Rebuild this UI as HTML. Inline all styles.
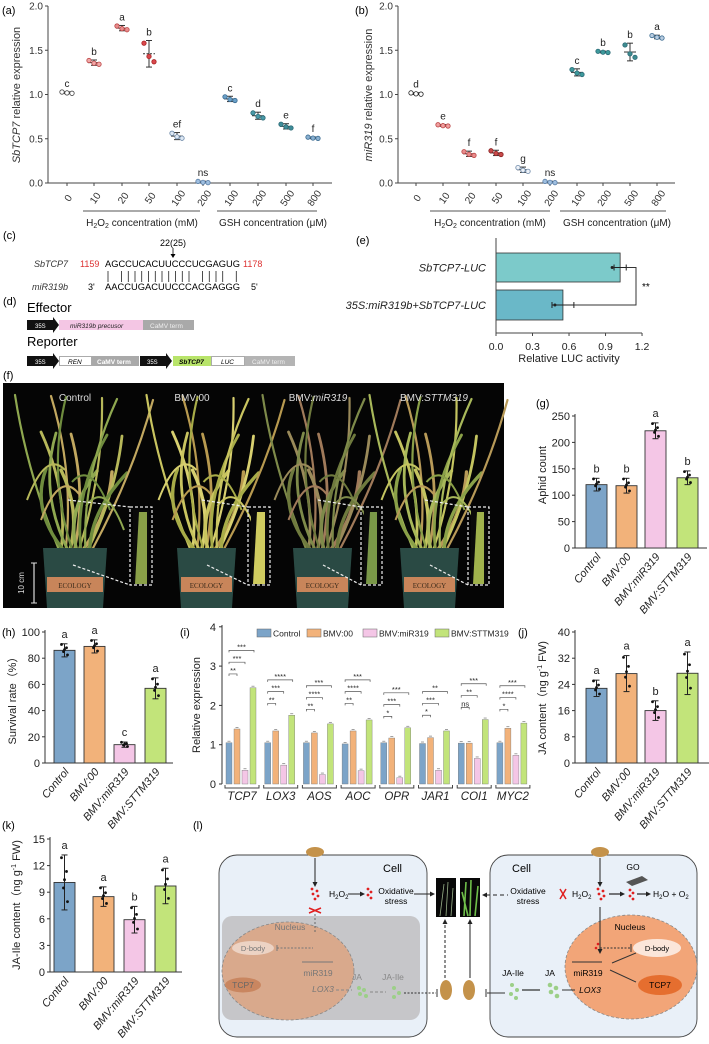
<!DOCTYPE html>
<html><head><meta charset="utf-8">
<style>
html,body{margin:0;padding:0;background:#fff;}
svg{display:block;font-family:"Liberation Sans",sans-serif;}
</style></head>
<body>
<svg id="fig" xmlns="http://www.w3.org/2000/svg" width="709" height="1044" viewBox="0 0 709 1044">
<rect x="0" y="0" width="709" height="1044" fill="#fff"/>
<g font-size="9">
  <text x="3" y="239" font-size="11">(c)</text>
  <text x="173" y="246" text-anchor="middle">22(25)</text>
  <line x1="173" y1="248" x2="173" y2="256" stroke="#000" stroke-width="0.8"/>
  <path d="M170.5 254 L173 258 L175.5 254Z" fill="#000"/>
  <text x="68" y="267" text-anchor="end" font-style="italic" fill="#333">SbTCP7</text>
  <text x="80" y="267" fill="#d33">1159</text>
  <text x="105" y="267" textLength="135" lengthAdjust="spacingAndGlyphs">AGCCUCACUUCCCUCGAGUG</text>
  <text x="243" y="267" fill="#d33">1178</text>
  <text x="68" y="290" text-anchor="end" font-style="italic" fill="#333">miR319b</text>
  <text x="88" y="290">3'</text>
  <text x="105" y="290" textLength="135" lengthAdjust="spacingAndGlyphs">AACCUGACUUCCCACGAGGG</text>
  <text x="251" y="290">5'</text>
  <g id="pairs" stroke="#000" stroke-width="0.7"></g>
</g>
<g>
  <text x="3" y="305" font-size="11">(d)</text>
  <text x="27" y="312" font-size="13">Effector</text>
  <path d="M27 320 H53 V317 L59 325 L53 333 V330 H27Z" fill="#111"/>
  <text x="35" y="328" font-size="6" fill="#fff">35S</text>
  <rect x="59" y="320" width="84" height="10" fill="#f4c6e4"/>
  <text x="70" y="328" font-size="6.5" font-style="italic" fill="#222">miR319b precusor</text>
  <rect x="143" y="320" width="51" height="10" fill="#a9a9a9"/>
  <text x="150" y="328" font-size="6.5" fill="#eee">CaMV term</text>
  <text x="27" y="346" font-size="13">Reporter</text>
  <path d="M27 356 H53 V353 L59 361 L53 369 V366 H27Z" fill="#111"/>
  <text x="35" y="364" font-size="6" fill="#fff">35S</text>
  <rect x="59.5" y="356.5" width="32" height="9" fill="#fff" stroke="#888" stroke-width="0.7"/>
  <text x="68" y="364" font-size="6.5" font-style="italic">REN</text>
  <rect x="92" y="356" width="47" height="10" fill="#a9a9a9"/>
  <text x="97" y="364" font-size="6.5" fill="#fff" font-weight="bold">CaMV term</text>
  <path d="M140 356 H166 V353 L172 361 L166 369 V366 H140Z" fill="#111"/>
  <text x="147" y="364" font-size="6" fill="#fff">35S</text>
  <rect x="173" y="356" width="38" height="10" fill="#b8e46a"/>
  <text x="179" y="364" font-size="6.5" font-style="italic" font-weight="bold">SbTCP7</text>
  <rect x="211.5" y="356.5" width="33" height="9" fill="#fff" stroke="#888" stroke-width="0.7"/>
  <text x="221" y="364" font-size="6.5" font-style="italic">LUC</text>
  <rect x="245" y="356" width="50" height="10" fill="#b4b4b4"/>
  <text x="252" y="364" font-size="6.5" fill="#eee">CaMV term</text>
</g>
<g>
  <text x="3" y="379" font-size="11">(f)</text>
  <rect x="3" y="383" width="501" height="225" fill="#050505"/>
  <g id="plants"></g>
  <text x="75" y="401" fill="#ddd" font-size="10" text-anchor="middle">Control</text>
  <text x="192" y="401" fill="#ddd" font-size="10" text-anchor="middle">BMV:00</text>
  <text x="318" y="401" fill="#ddd" font-size="10" text-anchor="middle">BMV:<tspan font-style="italic">miR319</tspan></text>
  <text x="434" y="401" fill="#ddd" font-size="10" text-anchor="middle">BMV:<tspan font-style="italic">STTM319</tspan></text>
  <line x1="34" y1="563" x2="34" y2="603" stroke="#ddd" stroke-width="1.2"/>
  <line x1="31" y1="563" x2="37" y2="563" stroke="#ddd"/><line x1="31" y1="603" x2="37" y2="603" stroke="#ddd"/>
  <text x="24" y="583" fill="#ddd" font-size="8" text-anchor="middle" transform="rotate(-90 24 583)">10 cm</text>
</g>
<g font-size="8.5">
  <text x="193" y="829" font-size="11">(l)</text>
  <rect x="219" y="855" width="208" height="182" rx="18" fill="#e9f0f8" stroke="#444" stroke-width="0.9"/>
  <rect x="222" y="916" width="198" height="104" rx="10" fill="#c6c6c9"/>
  <ellipse cx="288" cy="971" rx="66" ry="49" fill="#d9a98c" stroke="#888" stroke-dasharray="3 2" stroke-width="0.8"/>
  <text x="402" y="872" font-size="11" text-anchor="end">Cell</text>
  <ellipse cx="315" cy="852" rx="9" ry="5" fill="#c4924a"/>
  <line x1="315" y1="858" x2="315" y2="884" stroke="#222"/><path d="M312.5 882 L315 887 L317.5 882Z" fill="#222"/>
  <g fill="#e02020"><circle cx="312" cy="889" r="1.4"/><circle cx="317" cy="891" r="1.4"/><circle cx="313" cy="894" r="1.4"/><circle cx="318" cy="896" r="1.4"/><circle cx="315" cy="899" r="1.4"/></g>
  <text x="329" y="897">H<tspan font-size="6" dy="2">2</tspan><tspan dy="-2">O</tspan><tspan font-size="6" dy="2">2</tspan></text>
  <line x1="348" y1="894" x2="362" y2="894" stroke="#222"/><path d="M360 891.5 L365 894 L360 896.5Z" fill="#222"/>
  <g fill="#e02020"><circle cx="368" cy="889" r="1.4"/><circle cx="371" cy="892" r="1.4"/><circle cx="368" cy="895" r="1.4"/><circle cx="371" cy="898" r="1.4"/></g>
  <text x="396" y="894" text-anchor="middle">Oxidative</text><text x="396" y="904" text-anchor="middle">stress</text>
  <line x1="414" y1="894" x2="432" y2="894" stroke="#222"/><path d="M430 891.5 L435 894 L430 896.5Z" fill="#222"/>
  <path d="M309 908 L321 913 M309 913 L321 908" stroke="#e02020" stroke-width="1.5"/>
  <line x1="315" y1="914" x2="315" y2="934" stroke="#666" stroke-dasharray="2 2"/>
  <text x="290" y="930" text-anchor="middle" fill="#777">Nucleus</text>
  <ellipse cx="253" cy="948" rx="21" ry="7" fill="#ecd3c4"/><text x="253" y="951" text-anchor="middle" fill="#777" font-size="7.5">D-body</text>
  <line x1="277" y1="948" x2="313" y2="948" stroke="#777" stroke-dasharray="2 1.5"/><line x1="277" y1="945" x2="277" y2="951" stroke="#777"/>
  <line x1="302" y1="962" x2="333" y2="962" stroke="#777"/>
  <text x="318" y="976" text-anchor="middle" fill="#777">miR319</text>
  <ellipse cx="243" cy="985" rx="18" ry="7.5" fill="#c98660"/><text x="243" y="988" text-anchor="middle" fill="#666">TCP7</text>
  <text x="323" y="992" text-anchor="middle" font-style="italic" fill="#777">LOX3</text>
  <text x="357" y="980" text-anchor="middle" fill="#888">JA</text>
  <text x="393" y="980" text-anchor="middle" fill="#888">JA-Ile</text>
  <g fill="#9ccf88"><circle cx="359" cy="988" r="2"/><circle cx="364" cy="990" r="2"/><circle cx="360" cy="994" r="2"/><circle cx="366" cy="996" r="2"/><circle cx="394" cy="988" r="2"/><circle cx="399" cy="993" r="2"/><circle cx="394" cy="997" r="2"/></g>
  <line x1="336" y1="990" x2="352" y2="990" stroke="#888" stroke-dasharray="3 2"/>
  <line x1="370" y1="992" x2="386" y2="992" stroke="#888" stroke-dasharray="3 2"/>
  <line x1="404" y1="993" x2="436" y2="993" stroke="#333" stroke-dasharray="2 1.5"/><line x1="437" y1="989" x2="437" y2="997" stroke="#333"/>
  <rect x="436" y="878" width="20" height="39" fill="#080808"/>
  <path d="M440 916 L444 884 M446 916 L448 882 M451 916 L453 888" stroke="#9ab28a" stroke-width="0.8"/>
  <rect x="460" y="878" width="20" height="39" fill="#080808"/>
  <path d="M464 916 L466 882 M470 916 L471 880 M475 916 L478 886 M468 916 L462 892" stroke="#6fbf4a" stroke-width="1.6"/>
  <line x1="445" y1="978" x2="445" y2="922" stroke="#222" stroke-dasharray="3 2"/><path d="M442.5 924 L445 919 L447.5 924Z" fill="#222"/>
  <line x1="470" y1="978" x2="470" y2="922" stroke="#222"/><path d="M467.5 924 L470 919 L472.5 924Z" fill="#222"/>
  <ellipse cx="446" cy="990" rx="6" ry="10" fill="#c4924a"/>
  <ellipse cx="469" cy="990" rx="6" ry="10" fill="#c4924a"/>
  <rect x="490" y="855" width="207" height="182" rx="18" fill="#e9f0f8" stroke="#444" stroke-width="0.9"/>
  <text x="512" y="872" font-size="11">Cell</text>
  <ellipse cx="631" cy="967" rx="66" ry="52" fill="#f2a578" stroke="#888" stroke-dasharray="3 2" stroke-width="0.8"/>
  <ellipse cx="600" cy="852" rx="9" ry="5" fill="#c4924a"/>
  <line x1="600" y1="858" x2="600" y2="884" stroke="#222"/><path d="M597.5 882 L600 887 L602.5 882Z" fill="#222"/>
  <g fill="#e02020"><circle cx="598" cy="889" r="1.4"/><circle cx="603" cy="891" r="1.4"/><circle cx="599" cy="894" r="1.4"/><circle cx="604" cy="896" r="1.4"/><circle cx="601" cy="899" r="1.4"/></g>
  <text x="572" y="897">H<tspan font-size="6" dy="2">2</tspan><tspan dy="-2">O</tspan><tspan font-size="6" dy="2">2</tspan></text>
  <path d="M560 889 L566 899 M566 889 L560 899" stroke="#e02020" stroke-width="1.5"/>
  <text x="528" y="894" text-anchor="middle">Oxidative</text><text x="528" y="904" text-anchor="middle">stress</text>
  <line x1="486" y1="895" x2="508" y2="895" stroke="#222" stroke-dasharray="4 3"/><path d="M487 892.5 L482 895 L487 897.5Z" fill="#222"/>
  <line x1="609" y1="894" x2="622" y2="894" stroke="#222" stroke-width="1.2"/><path d="M620 891.5 L625 894 L620 896.5Z" fill="#222"/>
  <g fill="#e02020"><circle cx="630" cy="890" r="1.4"/><circle cx="633" cy="893" r="1.4"/><circle cx="630" cy="896" r="1.4"/><circle cx="633" cy="899" r="1.4"/></g>
  <line x1="637" y1="894" x2="648" y2="894" stroke="#222" stroke-width="1.2"/><path d="M646 891.5 L651 894 L646 896.5Z" fill="#222"/>
  <text x="653" y="897">H<tspan font-size="6" dy="2">2</tspan><tspan dy="-2">O + O</tspan><tspan font-size="6" dy="2">2</tspan></text>
  <text x="633" y="870" text-anchor="middle">GO</text>
  <path d="M626 882 L642 876 L648 880 L632 886Z" fill="#555"/>
  <line x1="600" y1="907" x2="600" y2="951" stroke="#222"/><path d="M597.5 949 L600 954 L602.5 949Z" fill="#222"/>
  <text x="630" y="930" text-anchor="middle">Nucleus</text>
  <circle cx="598" cy="944" r="1.3" fill="#e02020"/><circle cx="596" cy="948" r="1.3" fill="#e02020"/>
  <line x1="600" y1="948" x2="630" y2="948" stroke="#333" stroke-dasharray="2 1.5"/><line x1="631" y1="944" x2="631" y2="952" stroke="#333"/>
  <ellipse cx="657" cy="948" rx="24" ry="9" fill="#fbe6da"/><text x="657" y="951" text-anchor="middle" font-size="7.5">D-body</text>
  <line x1="572" y1="962" x2="602" y2="962" stroke="#333"/>
  <text x="588" y="976" text-anchor="middle">miR319</text>
  <line x1="636" y1="953" x2="612" y2="963" stroke="#333"/>
  <line x1="610" y1="970" x2="636" y2="982" stroke="#333"/>
  <ellipse cx="660" cy="985" rx="22" ry="10" fill="#e56e2f"/><text x="660" y="988" text-anchor="middle">TCP7</text>
  <text x="590" y="993" text-anchor="middle" font-style="italic">LOX3</text>
  <text x="550" y="976" text-anchor="middle">JA</text>
  <text x="513" y="976" text-anchor="middle">JA-Ile</text>
  <g fill="#9ccf88"><circle cx="550" cy="985" r="2.3"/><circle cx="556" cy="988" r="2.3"/><circle cx="551" cy="992" r="2.3"/><circle cx="557" cy="996" r="2.3"/><circle cx="512" cy="985" r="2"/><circle cx="517" cy="990" r="2"/><circle cx="511" cy="994" r="2"/><circle cx="516" cy="998" r="2"/></g>
  <line x1="522" y1="990" x2="540" y2="990" stroke="#333" stroke-width="1.3"/>
  <line x1="562" y1="990" x2="575" y2="990" stroke="#333"/>
  <line x1="487" y1="993" x2="505" y2="993" stroke="#333"/><line x1="486" y1="989" x2="486" y2="997" stroke="#333"/>
</g>
<g id="charts"></g>
</svg>
<script>
const concLabels = ["0","10","20","50","100","200","100","200","500","800"];
const tcp7Expr = [1.02,1.36,1.75,1.46,0.53,0.01,0.95,0.76,0.64,0.51];
const tcp7Err = [0.01,0.03,0.03,0.15,0.04,0.01,0.03,0.04,0.03,0.01];
const tcp7Letters = ["c","b","a","b","ef","ns","c","d","e","f"];
const mir319Expr = [1.01,0.65,0.33,0.34,0.15,0.01,1.25,1.48,1.48,1.65];
const mir319Err = [0.01,0.01,0.03,0.03,0.03,0.01,0.04,0.01,0.10,0.02];
const mir319Letters = ["d","e","f","f","g","ns","c","b","b","a"];
const lucLabels = ["SbTCP7-LUC","35S:miR319b+SbTCP7-LUC"];
const lucValues = [1.02,0.55];
const lucErr = [0.05,0.09];
const groups = ["Control","BMV:00","BMV:miR319","BMV:STTM319"];
const aphidCount = [120,118,222,133];
const aphidErr = [12,14,15,13];
const aphidLetters = ["b","b","a","b"];
const survival = [86,89,14,57];
const survivalErr = [5,5,2,8];
const survivalLetters = ["a","a","c","a"];
const jaContent = [22.8,27.3,16,27.4];
const jaErr = [2.5,5.5,3,6.5];
const jaLetters = ["a","a","b","a"];
const jaIle = [10.1,8.5,5.9,9.7];
const jaIleErr = [3.1,1.1,1.5,2.0];
const jaIleLetters = ["a","a","b","a"];
const genes = ["TCP7","LOX3","AOS","AOC","OPR","JAR1","COI1","MYC2"];
const geneControl = [1.05,1.05,1.05,1.02,1.05,1.03,1.04,1.05];
const geneBMV00 = [1.40,1.35,1.30,1.35,1.17,1.18,1.04,1.42];
const geneMiR319 = [0.35,0.48,0.24,0.34,0.16,0.35,0.65,0.73];
const geneSTTM319 = [2.45,1.75,1.53,1.63,1.43,1.35,1.64,1.55];
const sigLow = ["**","**","**","**","*","*","ns","*"];
const sigMid = ["***","***","****","****","***","***","**","****"];
const sigTop = ["***","****","***","***","***","**","***","***"];
const sigBase = [2.8,2.05,1.9,2.05,1.72,1.75,1.95,1.9];

const NS="http://www.w3.org/2000/svg";
const root=document.getElementById('charts');
function mk(tag,attrs,parent){const e=document.createElementNS(NS,tag);for(const k in attrs)e.setAttribute(k,attrs[k]);(parent||root).appendChild(e);return e;}
function txt(x,y,s,attrs,parent){const e=mk('text',Object.assign({x:x,y:y},attrs||{}),parent);e.textContent=s;return e;}
function line(x1,y1,x2,y2,c,w,parent,extra){return mk('line',Object.assign({x1:x1,y1:y1,x2:x2,y2:y2,stroke:c||'#333','stroke-width':w||1},extra||{}),parent);}

(function(){const g=document.getElementById('pairs');const pos=[0,2,3,4,5,6,7,8,9,10,11,12,14,15,16,17,19];
 pos.forEach(i=>{const x=108+i*6.75;line(x,271,x,282,'#000',0.7,g);});})();

(function(){const g=document.getElementById('plants');
 const pots=[[43,107],[177,236],[293,352],[400,459]];
 const cols=[['#8fa850','#b7b85a','#6f8c3e','#c2a860'],['#c9c460','#d8d070','#a8ac48','#b89a50'],['#7e8a4a','#9a8a5a','#6f7a3e','#a07a5a'],['#a8b85a','#c4c460','#8aa048','#b89a58']];
 pots.forEach((p,i)=>{const cx=(p[0]+p[1])/2;
  for(let k=0;k<16;k++){const bx=cx-16+k*2.2;const tx=cx-60+k*8+((k*13)%7)*3;const ty=395+((k*37)%110);
   const bend=((k%2)?1:-1)*(10+(k*7)%15);
   mk('path',{d:`M${bx} 550 Q${(bx+tx)/2+bend} ${(550+ty)/2} ${tx} ${ty}`,stroke:cols[i][k%4],'stroke-width':2.2+(k%3)*0.6,fill:'none','stroke-linecap':'round'},g);}
  for(let k=0;k<4;k++){const sx=cx-10+k*7;const ex=sx+((k%2)?38:-38);
   mk('path',{d:`M${sx} ${470+k*12} Q${(sx+ex)/2} ${450+k*10} ${ex} ${500+k*10}`,stroke:cols[i][(k+1)%4],'stroke-width':2,fill:'none'},g);}
  mk('path',{d:`M${p[0]} 548 L${p[1]} 548 L${p[1]-4} 608 L${p[0]+4} 608Z`,fill:'#2a4a44'},g);
  mk('rect',{x:p[0]+4,y:577,width:p[1]-p[0]-8,height:15,fill:'#c8855a'},g);
  txt(cx,588,'ECOLOGY',{'font-size':7,'text-anchor':'middle',fill:'#3a2a1a','font-family':'Liberation Serif'},g);
 });
 const ins=[[130,152],[248,270],[361,382],[468,489]];
 ins.forEach((b,i)=>{mk('rect',{x:b[0]+3,y:510,width:b[1]-b[0]-6,height:74,fill:'#0a0a0a'},g);
  mk('path',{d:`M${b[0]+5} 584 L${b[0]+9} 512 L${b[1]-5} 512 L${b[1]-5} 584Z`,fill:['#8aa048','#d0cc60','#7a9848','#a0b24c'][i]},g);
  mk('rect',{x:b[0],y:507,width:b[1]-b[0],height:78,fill:'none',stroke:'#eee','stroke-dasharray':'3 2','stroke-width':1.2},g);
  const px=pots[i][0]+30;
  line(px-5,500,b[0],507,'#eee',1.2,g,{'stroke-dasharray':'3 2'});
  line(px,565,b[0],585,'#eee',1.2,g,{'stroke-dasharray':'3 2'});});
})();

function scatterPanel(cfg){
 const g=mk('g',{});
 
 
 const y=v=>183-v*88.5;
 txt(cfg.lx,14,cfg.label,{'font-size':11},g);
 line(cfg.x0,6,cfg.x0,183,'#444',1,g);
 line(cfg.x0,183,cfg.x1,183,'#444',1,g);
 [0,0.5,1,1.5,2].forEach(t=>{line(cfg.x0-3,y(t),cfg.x0,y(t),'#444',1,g);
  txt(cfg.x0-5,y(t)+3.5,t.toFixed(1),{'font-size':10,'text-anchor':'end',fill:'#333'},g);});
 const tt=txt(cfg.tx,95,'',{'font-size':11,'text-anchor':'middle',fill:'#333',transform:`rotate(-90 ${cfg.tx} 95)`},g);
 tt.innerHTML=cfg.title;
 cfg.vals.forEach((v,i)=>{const x=cfg.xs[i];
  line(x,183,x,186,'#444',1,g);
  txt(x+4,200,concLabels[i],{'font-size':10,'text-anchor':'middle',fill:'#333',transform:`rotate(-55 ${x+4} 200)`},g);
  const e=cfg.err[i];
  line(x-6,y(v),x+6,y(v),'#333',1,g,i==3&&cfg.dash?{'stroke-dasharray':'2 1.5'}:{});
  line(x,y(v-e),x,y(v+e),'#333',1,g);
  line(x-3,y(v+e),x+3,y(v+e),'#333',1,g);line(x-3,y(v-e),x+3,y(v-e),'#333',1,g);
  [-5,0,5].forEach((dx,k)=>{const vv=v+e*[0.8,-0.2,-0.6][k];
   const c=mk('circle',{cx:x+dx,cy:y(vv),r:2.2,fill:cfg.fill[i],stroke:cfg.stroke[i],'stroke-width':0.8},g);
   
   });
  txt(x,y(v+e)-5,cfg.letters[i],{'font-size':10,'text-anchor':'middle',fill:'#222'},g);
 });
 line(cfg.g1[0],211,cfg.g1[1],211,'#555',1,g);line(cfg.g2[0],211,cfg.g2[1],211,'#555',1,g);
 const h=txt(cfg.g1c,226,'',{'font-size':10,'text-anchor':'middle',fill:'#222'},g);
 h.innerHTML='H<tspan font-size="7" dy="2">2</tspan><tspan dy="-2">O</tspan><tspan font-size="7" dy="2">2</tspan><tspan dy="-2"> concentration (mM)</tspan>';
 txt(cfg.g2c,226,'GSH concentration (\u03bcM)',{'font-size':10,'text-anchor':'middle',fill:'#222'},g);
}
scatterPanel({name:'panel-a-sbtcp7-expression',label:'(a)',lx:2,x0:48,x1:332,tx:20,
 xs:[67,94,122,149,177,203,230,258,286,313],vals:tcp7Expr,err:tcp7Err,letters:tcp7Letters,dash:true,
 title:'<tspan font-style="italic">SbTCP7</tspan> relative expression',
 fill:['#fff','#f2a8a8','#e88c8c','#d9484d','#dde8f4','#9fbfe0','#6aa0c8','#4a9aa8','#3e8c98','#8ab0d0'],
 stroke:['#444','#b44','#b44','#a22','#6a86a6','#5a7ea6','#3a6a90','#2c6a76','#2c6a76','#3a6a90'],
 g1:[83,200],g2:[217,317],g1c:142,g2c:273});
scatterPanel({name:'panel-b-mir319-expression',label:'(b)',lx:355,x0:398,x1:675,tx:372,
 xs:[416,443,469,496,523,550,577,603,630,657],vals:mir319Expr,err:mir319Err,letters:mir319Letters,dash:false,
 title:'<tspan font-style="italic">miR319</tspan> relative expression',
 fill:['#fff','#f0a0a0','#e88c8c','#c84a4a','#eef2f8','#9fbfe0','#3e9a9c','#3e9a9c','#3e8c90','#b8cce0'],
 stroke:['#222','#b44','#b44','#822','#6a86a6','#5a7ea6','#2c6a76','#2c6a76','#2c6a76','#3a6a90'],
 g1:[430,550],g2:[560,666],g1c:490,g2c:617});

(function(){const g=mk('g',{});
 
 
 const x=v=>496+v*121.7;
 txt(356,244,'(e)',{'font-size':11},g);
 const ys=[[253,282],[290,320]];const cols=['#7ccaca','#6ab8c8'];
 lucValues.forEach((v,i)=>{const b=mk('rect',{x:496,y:ys[i][0],width:x(v)-496,height:ys[i][1]-ys[i][0],fill:cols[i],stroke:'#333','stroke-width':0.8},g);
  
  
  const cy=(ys[i][0]+ys[i][1])/2;
  line(x(v-lucErr[i]),cy,x(v+lucErr[i]),cy,'#222',1,g);
  line(x(v-lucErr[i]),cy-3,x(v-lucErr[i]),cy+3,'#222',1,g);line(x(v+lucErr[i]),cy-3,x(v+lucErr[i]),cy+3,'#222',1,g);
  mk('circle',{cx:x(v)-8,cy:cy,r:1.5,fill:'#222'},g);
  txt(486,cy+4,lucLabels[i],{'font-size':11,'text-anchor':'end','font-style':'italic',fill:'#222'},g);
 });
 const c1=(ys[0][0]+ys[0][1])/2,c2=(ys[1][0]+ys[1][1])/2;
 mk('path',{d:`M${x(lucValues[0]+lucErr[0])} ${c1} H636 V${c2} H${x(lucValues[1]+lucErr[1])}`,fill:'none',stroke:'#333','stroke-width':1},g);
 txt(642,290,'**',{'font-size':10},g);
 line(496,238,496,333,'#444',1,g);line(496,333,642,333,'#444',1,g);
 [0,0.3,0.6,0.9,1.2].forEach(t=>{line(x(t),333,x(t),336,'#444',1,g);txt(x(t),350,t.toFixed(1),{'font-size':10.5,'text-anchor':'middle',fill:'#222'},g);});
 txt(569,362,'Relative LUC activity',{'font-size':11,'text-anchor':'middle',fill:'#222'},g);
})();

const barFill=['#7ca4c8','#f2b27a','#f4c6e6','#c2e47a'];
function barPanel(cfg){
 const g=mk('g',{});
 
 
 const y=v=>cfg.y0-(v/cfg.max)*(cfg.y0-cfg.ytop);
 txt(cfg.lx,cfg.ly,cfg.label,{'font-size':11},g);
 line(cfg.x0,cfg.ytop-2,cfg.x0,cfg.y0,'#333',1,g);line(cfg.x0,cfg.y0,cfg.x1,cfg.y0,'#333',1,g);
 cfg.ticks.forEach(t=>{line(cfg.x0-3,y(t),cfg.x0,y(t),'#333',1,g);txt(cfg.x0-5,y(t)+4,String(t),{'font-size':11,'text-anchor':'end',fill:'#222'},g);});
 const tt=txt(cfg.tx,cfg.tcy,'',{'font-size':11,'text-anchor':'middle',fill:'#222',transform:`rotate(-90 ${cfg.tx} ${cfg.tcy})`},g);tt.innerHTML=cfg.title;
 cfg.vals.forEach((v,i)=>{const bx=cfg.bx[i],bw=cfg.bw;
  const b=mk('rect',{x:bx,y:y(v),width:bw,height:cfg.y0-y(v),fill:barFill[i],stroke:'#333','stroke-width':0.9},g);
  
  
  const cx=bx+bw/2,e=cfg.err[i];
  line(cx,y(v-e),cx,y(v+e),'#222',1,g);line(cx-3,y(v+e),cx+3,y(v+e),'#222',1,g);line(cx-3,y(v-e),cx+3,y(v-e),'#222',1,g);
  [0.9,0.4,-0.2,-0.7,0.1].forEach((f,k)=>{mk('circle',{cx:cx+[-3,2,-1,3,0][k],cy:y(v+e*f),r:1.4,fill:'#111'},g);});
  txt(cx,y(v+e)-6,cfg.letters[i],{'font-size':11,'text-anchor':'middle',fill:'#222'},g);
  const lx=cx+5,ly=cfg.y0+9;
  const lab=txt(lx,ly,'',{'font-size':11,'text-anchor':'end',fill:'#222',transform:`rotate(-50 ${lx} ${ly})`},g);
  lab.innerHTML=i==0?'<tspan font-style="italic">Control</tspan>':i==1?'<tspan font-style="italic">BMV:00</tspan>':i==2?'<tspan font-style="italic">BMV:miR319</tspan>':'<tspan font-style="italic">BMV:STTM319</tspan>';
 });
}
barPanel({name:'panel-g-aphid-count',label:'(g)',lx:536,ly:407,x0:575,x1:707,y0:548,ytop:416,max:250,ticks:[0,50,100,150,200,250],
 tx:546,tcy:475,title:'Aphid count',vals:aphidCount,err:aphidErr,letters:aphidLetters,bx:[586,616,645,677],bw:21});
barPanel({name:'panel-h-survival-rate',label:'(h)',lx:2,ly:636,x0:45,x1:173,y0:763,ytop:632,max:100,ticks:[0,20,40,60,80,100],
 tx:16,tcy:698,title:'Survival rate\uff08%\uff09',vals:survival,err:survivalErr,letters:survivalLetters,bx:[54,84,114,145],bw:21});
barPanel({name:'panel-j-ja-content',label:'(j)',lx:518,ly:636,x0:575,x1:709,y0:763,ytop:632,max:40,ticks:[0,8,16,24,32,40],
 tx:546,tcy:698,title:'JA content\uff08ng g<tspan font-size="7" dy="-4">-1</tspan><tspan dy="4"> FW)</tspan>',vals:jaContent,err:jaErr,letters:jaLetters,bx:[586,616,645,677],bw:21});
barPanel({name:'panel-k-ja-ile-content',label:'(k)',lx:2,ly:829,x0:50,x1:182,y0:972,ytop:839,max:15,ticks:[0,3,6,9,12,15],
 tx:20,tcy:905,title:'JA-Ile content\uff08ng g<tspan font-size="7" dy="-4">-1</tspan><tspan dy="4"> FW)</tspan>',vals:jaIle,err:jaIleErr,letters:jaIleLetters,bx:[54,93,124,155],bw:21});

(function(){const g=mk('g',{});
 
 
 const y0=784,unit=39.3,y=v=>y0-v*unit;
 txt(180,636,'(i)',{'font-size':11},g);
 line(222,625,222,y0,'#333',1,g);
 [0,1,2,3,4].forEach(t=>{line(219,y(t),222,y(t),'#333',1,g);txt(216,y(t)+4,String(t),{'font-size':11,'text-anchor':'end',fill:'#222'},g);});
 txt(200,705,'Relative expression',{'font-size':11,'text-anchor':'middle',fill:'#222',transform:'rotate(-90 200 705)'});
 const series=[geneControl,geneBMV00,geneMiR319,geneSTTM319];
 genes.forEach((gn,j)=>{const gx=226+j*38.7;
  series.forEach((s,k)=>{const bx=gx+k*8;
   const b=mk('rect',{x:bx,y:y(s[j]),width:6,height:y0-y(s[j]),fill:barFill[k],stroke:'#777','stroke-width':0.4},g);
   
   
   line(bx+1.5,y(s[j])-1.5,bx+4.5,y(s[j])-1.5,'#888',0.8,g);});
  mk('path',{d:`M${gx-1} ${y0+1} V${y0+4} H${gx+33} V${y0+1}`,fill:'none',stroke:'#444','stroke-width':1},g);
  txt(gx+16,800,gn,{'font-size':11.5,'text-anchor':'middle','font-style':'italic',fill:'#222'},g);
  const b0=sigBase[j];const lv=[[sigLow[j],b0,8],[sigMid[j],b0+0.3,16],[sigTop[j],b0+0.6,25]];
  lv.forEach(L=>{const yy=y(L[1]);mk('path',{d:`M${gx+3} ${yy+2} V${yy} H${gx+3+L[2]} V${yy+2}`,fill:'none',stroke:'#555','stroke-width':0.7},g);
   txt(gx+3+L[2]/2,yy-1,L[0],{'font-size':7.5,'text-anchor':'middle',fill:'#222'},g);});
 });
 const lg=[[257,'Control'],[307,'BMV:00'],[363,'BMV:miR319'],[435,'BMV:STTM319']];
 lg.forEach((L,k)=>{const r=mk('rect',{x:L[0],y:629,width:14,height:8,fill:barFill[k],stroke:'#666','stroke-width':0.5},g);
  
  
  txt(L[0]+16,636.5,L[1],{'font-size':8.5,fill:'#222'},g);});
})();
</script>
</body></html>
